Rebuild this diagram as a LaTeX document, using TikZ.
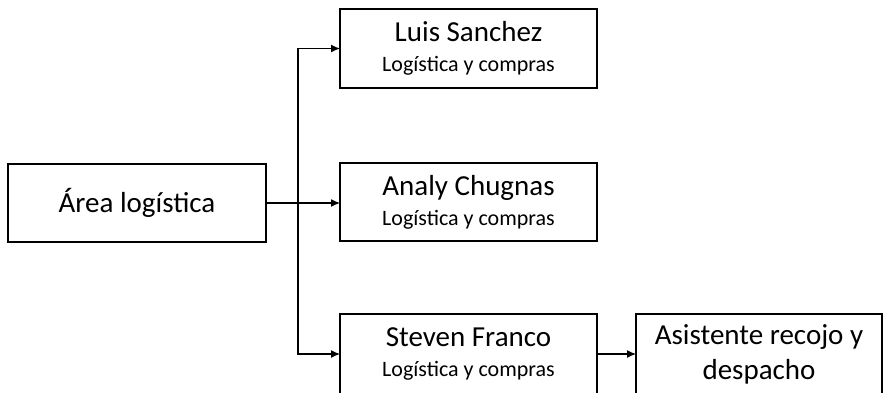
\documentclass[tikz,border=0pt]{standalone}
\usepackage{fontspec}
\setmainfont{Carlito}
\usetikzlibrary{shapes,arrows,arrows.meta,positioning}

\tikzset{
  caja/.style={draw, line width=1.2pt, minimum width=257pt, minimum height=79pt,
    align=center, inner sep=0pt, outer sep=0pt, font=\fontsize{22}{30}\selectfont},
  flecha/.style={line width=1.2pt, -{Latex[length=9pt,width=8pt]}},
}
\newcommand{\nombre}[1]{\fontsize{29}{30}\selectfont #1}
\newcommand{\cargo}[1]{\fontsize{22}{30}\selectfont #1}

\begin{document}
\begin{tikzpicture}[x=1pt,y=-1pt]
  \useasboundingbox (0,0) rectangle (884,392);

  % jefe del area
  \node[caja, minimum width=258pt, minimum height=78pt] (area) at (137,203)
    {\nombre{Área logística}};

  % personal
  \node[caja] (luis) at (468.5,48.5)
    {\nombre{Luis Sanchez}\\\cargo{Logística y compras}};
  \node[caja, minimum height=78pt] (analy) at (468.5,202)
    {\nombre{Analy Chugnas}\\\cargo{Logística y compras}};
  \node[caja, minimum height=80pt] (steven) at (468.5,354)
    {\nombre{Steven Franco}\\\cargo{Logística y compras}};
  \node[caja, minimum width=246pt, minimum height=80pt, right=39pt of steven] (asist)
    {\nombre{Asistente recojo y}\\[5pt]\nombre{despacho}};

  % conexiones
  \coordinate (rama) at (298,203);
  \draw[line width=1.2pt] (area.east) -- (rama);
  \draw[flecha] (rama) -- (rama -| analy.west);
  \draw[flecha] (rama) |- (luis.west);
  \draw[flecha] (rama) |- (steven.west);
  \draw[flecha] (steven.east) -- (asist.west);
\end{tikzpicture}
\end{document}
